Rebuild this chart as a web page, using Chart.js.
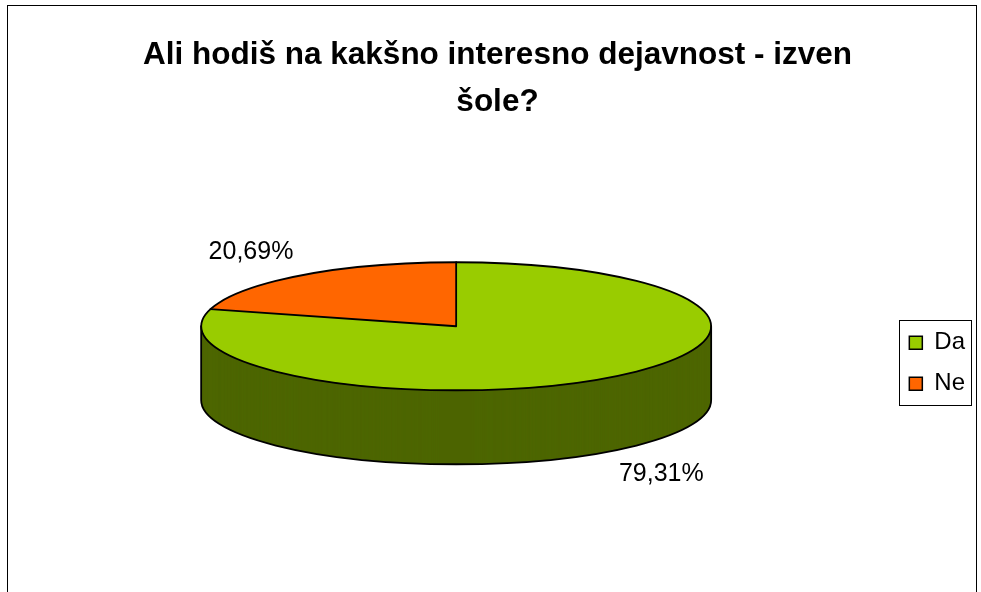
<!DOCTYPE html>
<html><head><meta charset="utf-8">
<script src="https://cdn.jsdelivr.net/npm/chart.js@4.4.1/dist/chart.umd.min.js"></script>
<style>html,body{margin:0;padding:0;background:#fff;}#wrap{width:981px;height:592px;position:relative;}</style>
</head><body><div id="wrap"><canvas id="c" width="981" height="592"></canvas></div>
<script>
// ---- data ----
const titleLines = ["Ali hodiš na kakšno interesno dejavnost - izven", "šole?"];
const categories = ["Da", "Ne"];
const percentages = [79.31, 20.69];
// ---- styles ----
const topColors = ["#99CC00", "#FF6600"];
const sideColors = ["#4D6600", "#803300"];
const FONT = '"Liberation Sans", Arial, sans-serif';
const RY = 64, DEPTH = 74;

function fmt(v){ return v.toFixed(2).replace('.', ',') + '%'; }

function geom(chart){
  const arcs = chart.getDatasetMeta(0).data;
  const a0 = arcs[0];
  const rx = a0.outerRadius;
  return {arcs, rx, ry: RY, k: RY / rx, cx: a0.x, cy: a0.y, ex: a0.x, ey: a0.y - DEPTH / 2};
}
function applyT(ctx, g, dy){ ctx.translate(g.ex, g.ey + dy); ctx.scale(1, g.k); ctx.translate(-g.cx, -g.cy); }

const pie3d = {
  id: 'pie3d',
  beforeDraw(chart){
    const ctx = chart.ctx;
    ctx.save();
    ctx.fillStyle = '#fff'; ctx.fillRect(0, 0, chart.width, chart.height);
    ctx.strokeStyle = '#000'; ctx.lineWidth = 1;
    ctx.strokeRect(7.5, 5.5, 969, 700);
    ctx.restore();
  },
  beforeDatasetsDraw(chart){
    const ctx = chart.ctx, g = geom(chart);
    for (let d = DEPTH; d >= 1; d -= 0.5) {
      ctx.save(); applyT(ctx, g, d);
      g.arcs.forEach((arc, i) => {
        const o = arc.options;
        arc.options = Object.assign({}, o, {backgroundColor: sideColors[i], borderWidth: 0});
        arc.draw(ctx);
        arc.options = o;
      });
      ctx.restore();
    }
    ctx.save(); applyT(ctx, g, 0);
  },
  afterDatasetsDraw(chart){
    const ctx = chart.ctx; ctx.restore();
    const g = geom(chart);
    ctx.save();
    ctx.strokeStyle = '#000'; ctx.lineWidth = 1.8; ctx.lineJoin = 'round'; ctx.lineCap = 'round';
    ctx.beginPath();
    ctx.moveTo(g.ex - g.rx, g.ey); ctx.lineTo(g.ex - g.rx, g.ey + DEPTH);
    ctx.moveTo(g.ex + g.rx, g.ey); ctx.lineTo(g.ex + g.rx, g.ey + DEPTH);
    ctx.moveTo(g.ex + g.rx, g.ey + DEPTH);
    ctx.ellipse(g.ex, g.ey + DEPTH, g.rx, g.ry, 0, 0, Math.PI);
    ctx.stroke();
    ctx.beginPath(); ctx.ellipse(g.ex, g.ey, g.rx, g.ry, 0, 0, 2 * Math.PI); ctx.stroke();
    ctx.beginPath();
    g.arcs.forEach(arc => {
      const a = arc.startAngle;
      const px = g.ex + g.rx * Math.cos(a), py = g.ey + g.ry * Math.sin(a);
      ctx.moveTo(g.ex, g.ey); ctx.lineTo(px, py);
      if (Math.sin(a) > 0.001) { ctx.moveTo(px, py); ctx.lineTo(px, py + DEPTH); }
    });
    ctx.stroke();
    ctx.fillStyle = '#000'; ctx.font = '25px ' + FONT; ctx.textAlign = 'center'; ctx.textBaseline = 'middle';
    g.arcs.forEach((arc, i) => {
      const a = (arc.startAngle + arc.endAngle) / 2;
      const s = Math.sin(a), c = Math.cos(a);
      const x = g.ex + c * (g.rx + 84);
      const y = g.ey + s * (g.ry + 29) + (s > 0 ? DEPTH : 0);
      ctx.fillText(fmt(percentages[i]), x, y);
    });
    ctx.restore();
  },
  afterDraw(chart){
    const lg = chart.legend; if (!lg || !lg.legendHitBoxes.length) return;
    const hb = lg.legendHitBoxes;
    let l = Infinity, r = -Infinity, t = Infinity, b = -Infinity;
    hb.forEach(h => { l = Math.min(l, h.left); r = Math.max(r, h.left + h.width); t = Math.min(t, h.top); b = Math.max(b, h.top + h.height); });
    const ctx = chart.ctx;
    ctx.save(); ctx.strokeStyle = '#000'; ctx.lineWidth = 1;
    ctx.strokeRect(Math.round(l - 10) + 0.5, Math.round(t - 11) + 0.5, Math.round(r - l + 16), Math.round(b - t + 20));
    ctx.restore();
  }
};

new Chart(document.getElementById('c'), {
  type: 'pie',
  data: {
    labels: categories,
    datasets: [{
      data: percentages,
      backgroundColor: topColors,
      borderWidth: 0,
      radius: 255,
      clip: false
    }]
  },
  options: {
    responsive: false,
    animation: false,
    events: [],
    layout: {padding: {left: 20, right: 6, top: 0, bottom: 0}},
    plugins: {
      tooltip: {enabled: false},
      title: {
        display: true,
        text: titleLines,
        color: '#000',
        font: {family: FONT, size: 31.5, weight: 'bold', lineHeight: 1.5},
        padding: {top: 31.5, bottom: 8.5}
      },
      legend: {
        position: 'right',
        fullSize: false,
        labels: {
          color: '#000',
          font: {family: FONT, size: 24},
          boxWidth: 13, boxHeight: 13, padding: 17,
          generateLabels(chart){
            const items = Chart.overrides.doughnut.plugins.legend.labels.generateLabels(chart);
            items.forEach(it => { it.strokeStyle = '#000'; it.lineWidth = 1.5; });
            return items;
          }
        }
      }
    }
  },
  plugins: [pie3d]
});
</script></body></html>
